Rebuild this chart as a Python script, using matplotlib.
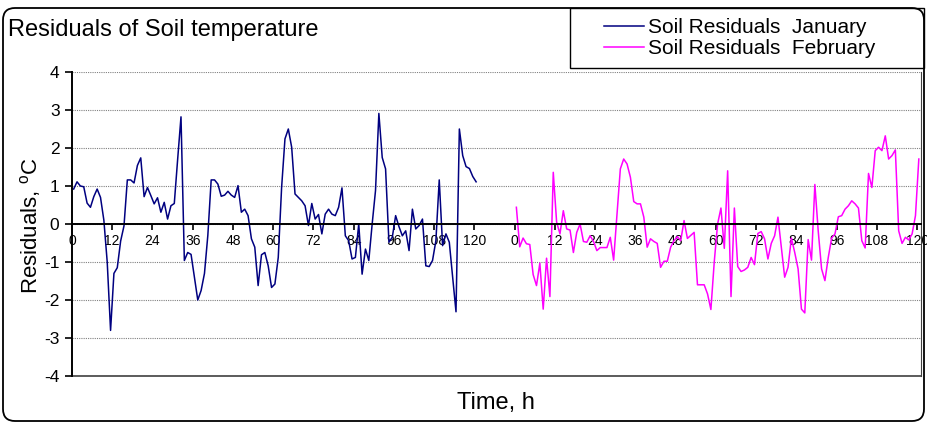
import matplotlib
matplotlib.use("Agg")
import matplotlib.pyplot as plt  # noqa: E402
from matplotlib.patches import FancyBboxPatch, Rectangle  # noqa: E402

plt.rcParams["font.family"] = ["Liberation Sans", "DejaVu Sans"]
plt.rcParams["mathtext.fontset"] = "custom"
plt.rcParams["mathtext.rm"] = "Liberation Sans"
plt.rcParams["axes.unicode_minus"] = False

# hourly residuals, deg C
jan = [0.92, 1.11, 1.00, 0.98, 0.55, 0.44, 0.72, 0.92, 0.70, 0.10,
       -1.00, -2.80, -1.30, -1.15, -0.45, -0.05, 1.16, 1.16, 1.08, 1.54,
       1.74, 0.72, 0.96, 0.75, 0.53, 0.69, 0.31, 0.57, 0.13, 0.48,
       0.54, 1.70, 2.82, -0.96, -0.75, -0.80, -1.40, -2.00, -1.75, -1.30,
       -0.30, 1.16, 1.16, 1.05, 0.73, 0.76, 0.86, 0.76, 0.70, 1.01,
       0.31, 0.39, 0.22, -0.39, -0.61, -1.62, -0.81, -0.75, -1.10, -1.67,
       -1.58, -0.88, 0.96, 2.24, 2.50, 2.02, 0.79, 0.70, 0.61, 0.48,
       -0.04, 0.54, 0.13, 0.25, -0.26, 0.26, 0.39, 0.26, 0.22, 0.44,
       0.95, -0.31, -0.44, -0.92, -0.88, 0.00, -1.32, -0.66, -0.96, 0.00,
       0.88, 2.91, 1.75, 1.45, -0.48, -0.35, 0.22, -0.07, -0.31, -0.18,
       -0.70, 0.39, -0.13, -0.04, 0.13, -1.10, -1.12, -0.96, -0.44, 1.16,
       -0.57, -0.26, -0.48, -1.40, -2.31, 2.50, 1.80, 1.51, 1.46, 1.25,
       1.11]
feb = [0.44, -0.60, -0.37, -0.52, -0.54, -1.33, -1.62, -1.03, -2.24, -0.90,
       -1.91, 1.36, 0.05, -0.26, 0.35, -0.13, -0.16, -0.75, -0.22, 0.00,
       -0.46, -0.48, -0.31, -0.46, -0.70, -0.62, -0.62, -0.62, -0.35, -0.95,
       0.25, 1.45, 1.71, 1.58, 1.23, 0.59, 0.53, 0.53, 0.18, -0.61,
       -0.39, -0.46, -0.51, -1.14, -0.98, -0.98, -0.61, -0.44, -0.33, -0.44,
       0.09, -0.38, -0.30, -0.22, -1.60, -1.60, -1.60, -1.84, -2.25, -1.00,
       0.00, 0.42, -0.64, 1.40, -1.91, 0.42, -1.12, -1.25, -1.21, -1.14,
       -0.88, -1.07, -0.25, -0.20, -0.39, -0.92, -0.51, -0.31, 0.18, -0.61,
       -1.40, -1.14, -0.37, -0.75, -1.18, -2.24, -2.34, -0.41, -0.95, 1.04,
       -0.18, -1.18, -1.49, -0.88, -0.37, -0.26, 0.19, 0.22, 0.39, 0.48,
       0.61, 0.53, 0.42, -0.44, -0.63, 1.33, 0.96, 1.93, 2.02, 1.93,
       2.32, 1.71, 1.80, 1.95, -0.18, -0.51, -0.35, -0.42, -0.26, 0.22,
       1.71]
hour_labels = list(range(0, 121, 12))
feb_offset = 132  # category slot where the February block starts
n_slots = 253

fig = plt.figure(figsize=(9.27, 4.25), dpi=100)
ax = fig.add_axes([72 / 927, 1 - 376 / 425, 848.5 / 927, 304 / 425])

x_jan = [i + 0.5 for i in range(len(jan))]
x_feb = [feb_offset + i + 0.5 for i in range(len(feb))]
l1, = ax.plot(x_jan, jan, color="#000080", lw=1.1, label="Soil Residuals  January")
l2, = ax.plot(x_feb, feb, color="#ff00ff", lw=1.1, label="Soil Residuals  February")

ax.set_xlim(0, n_slots)
ax.set_ylim(-4, 4)
ax.set_yticks(range(-4, 5))
ax.yaxis.grid(True, color="#808080", lw=0.8, linestyle=(0, (1, 1)))
ax.set_axisbelow(True)

ticks = hour_labels + [feb_offset + h for h in hour_labels]
ax.set_xticks(ticks)
ax.set_xticklabels([str(h) for h in hour_labels] * 2, fontsize=14)
ax.spines["bottom"].set_position(("data", 0))
ax.spines["bottom"].set_linewidth(1.4)
ax.spines["left"].set_linewidth(1.4)
ax.spines["top"].set_visible(False)
ax.spines["right"].set_color("#404040")
ax.plot([0, n_slots], [-4, -4], color="#404040", lw=1.2, clip_on=False)
ax.tick_params(axis="x", direction="out", length=4, width=1.2, pad=3)
ax.tick_params(axis="y", direction="out", length=5, width=1.2, labelsize=12.5, pad=4)

fig.text(31 / 927, 1 - 226 / 425, r"Residuals, $^{\mathrm{o}}$C", fontsize=16,
         rotation=90, ha="center", va="center")
fig.text(496 / 927, 1 - 403 / 425, "Time, h", fontsize=17, ha="center", va="center")
fig.text(8 / 927, 1 - 30 / 425, "Residuals of Soil temperature", fontsize=17,
         ha="left", va="center")

# outer rounded chart frame and legend box (pixel-based inches)
fig.patches.append(FancyBboxPatch((0.03, 0.04), 9.21, 4.13,
                                  boxstyle="round,pad=0,rounding_size=0.12",
                                  transform=fig.dpi_scale_trans, fill=False,
                                  ec="black", lw=1.3))
fig.patches.append(Rectangle((5.70, 3.57), 3.54, 0.60, transform=fig.dpi_scale_trans,
                             fill=False, ec="black", lw=1.0))
fig.legend(handles=[l1, l2], loc="upper left", bbox_to_anchor=(604 / 927, 1 - 18 / 425),
           frameon=False, fontsize=15, handlelength=1.9, handletextpad=0.2,
           labelspacing=0.1, borderaxespad=0, borderpad=0)

fig.savefig("out.png", dpi=100)
